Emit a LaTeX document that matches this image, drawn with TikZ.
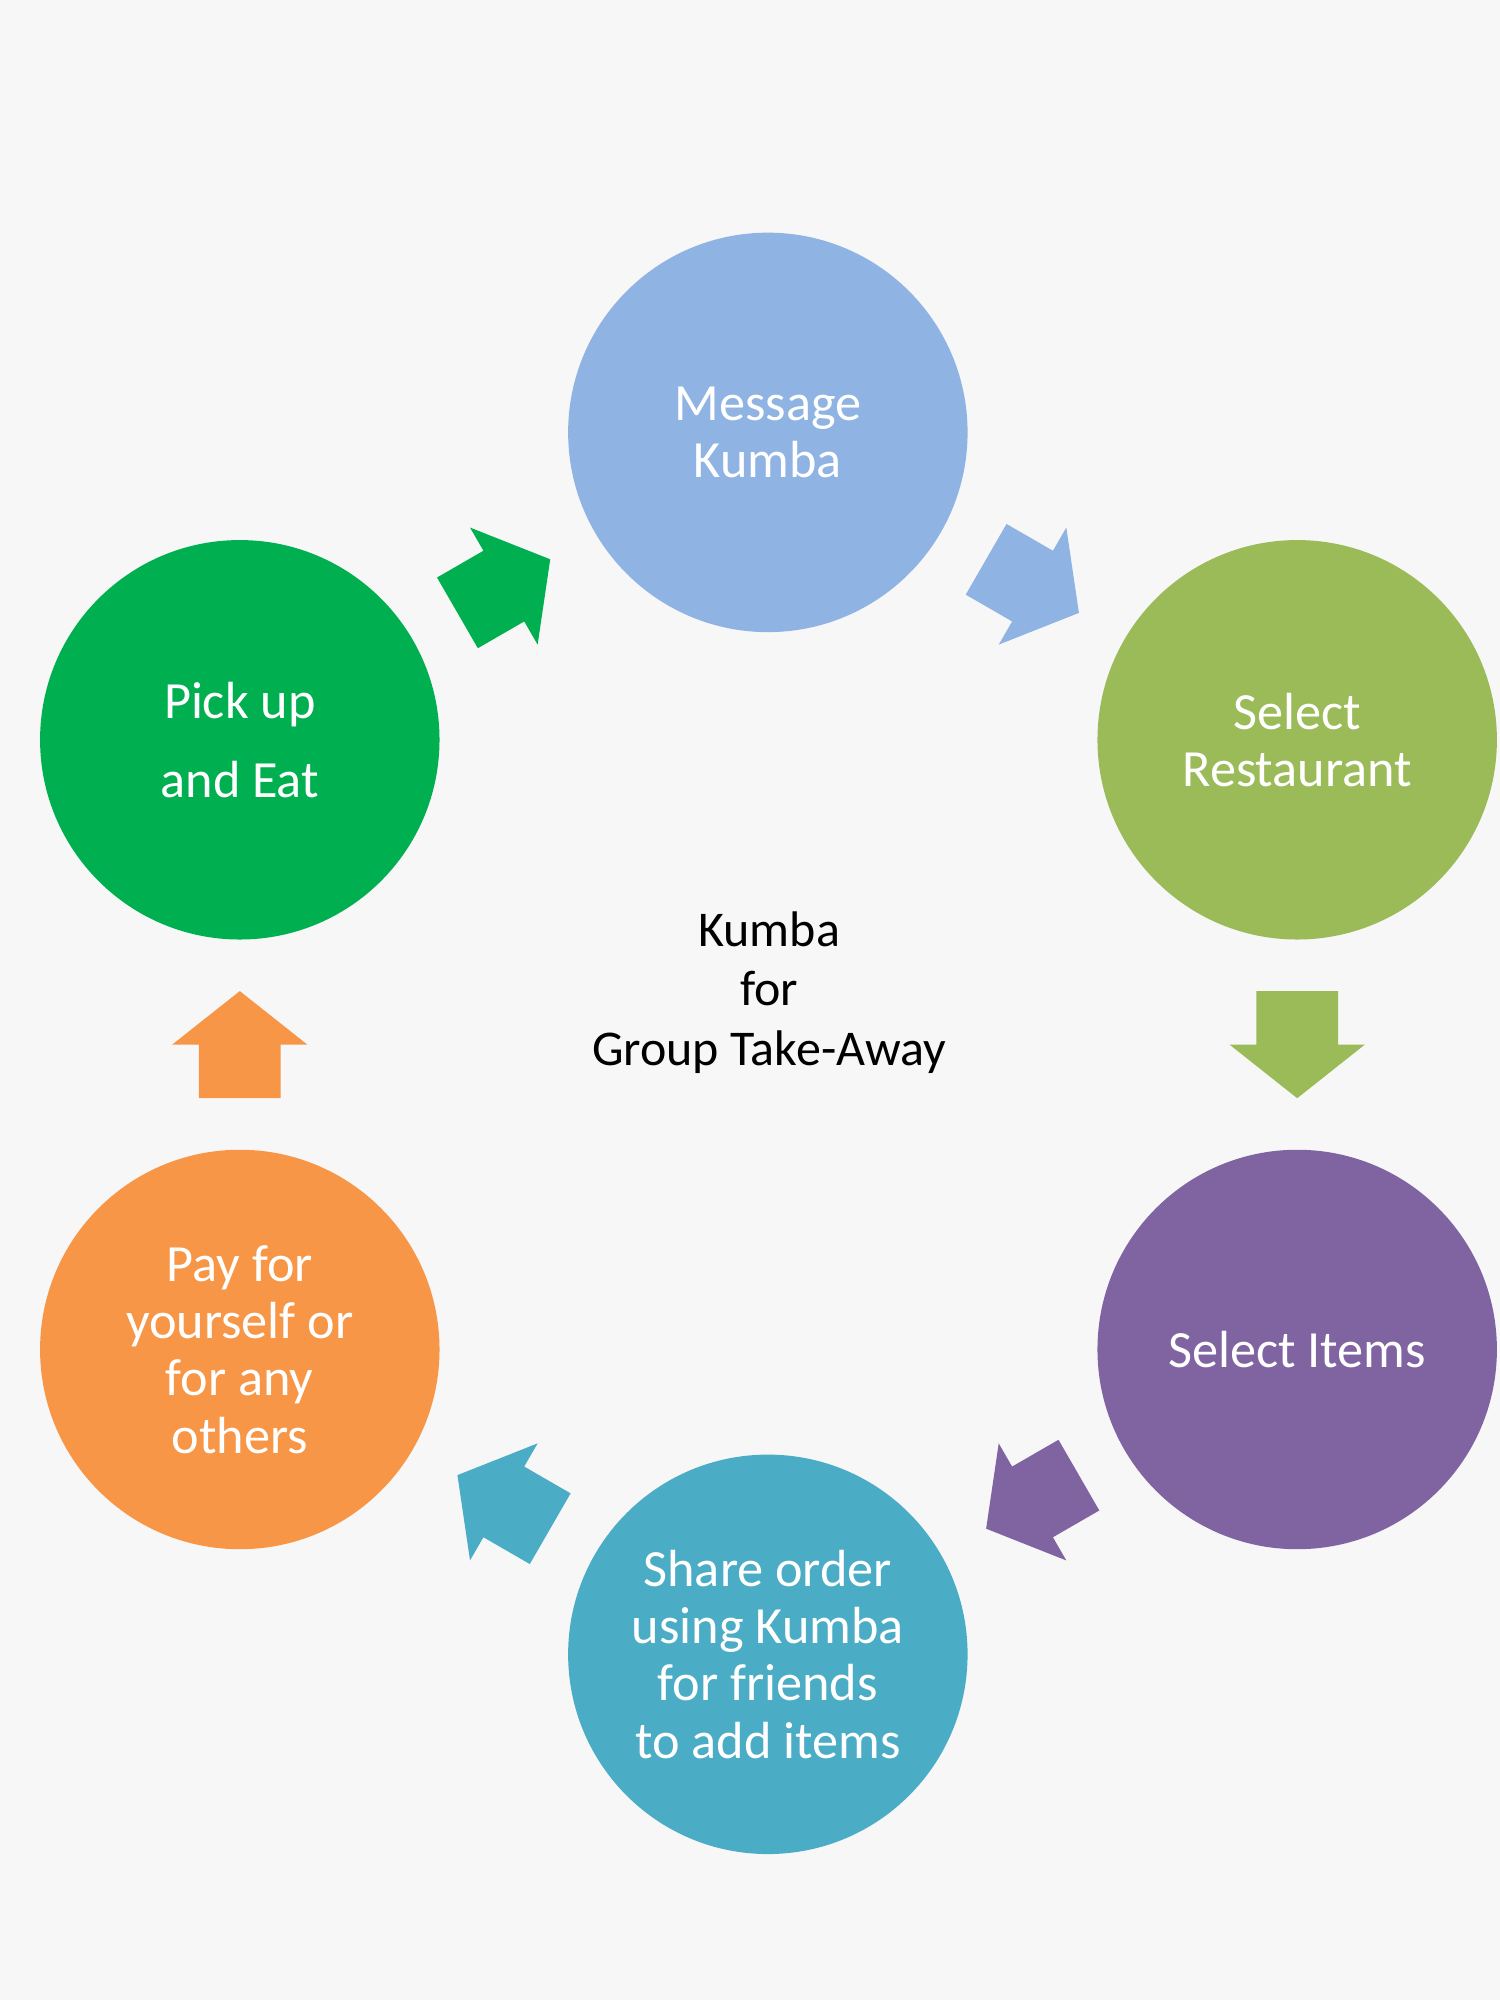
\documentclass[tikz,border=0pt]{standalone}
\usepackage{fontspec}
\setmainfont{Carlito}
\usepackage{tikz}
\usetikzlibrary{calc}
\definecolor{pagegray}{HTML}{F7F7F7}
\definecolor{msgblue}{HTML}{8FB3E2}
\definecolor{restgreen}{HTML}{9BBB59}
\definecolor{itempurple}{HTML}{8064A2}
\definecolor{shareteal}{HTML}{4BACC6}
\definecolor{payorange}{HTML}{F79646}
\definecolor{pickgreen}{HTML}{00B050}

\begin{document}
\begin{tikzpicture} [x=0.01cm, y=0.01cm,
  stage/.style={circle, minimum size=3.13cm, inner sep=0pt, align=center,
    text=white, font=\fontsize{11.65}{12.8}\selectfont},
  cyclearrow/.pic={\fill (-42,32) -- (0,32) -- (0,53) -- (42,0) -- (0,-53) -- (0,-32) -- (-42,-32) -- cycle;}]

\fill [pagegray] (0,0) rectangle (1176,1568);

\node [stage, fill=msgblue] (msg) at (602,1229) {Message\\Kumba};
\node [stage, fill=restgreen] (rest) at (1017,988) {Select\\Restaurant};
\node [stage, fill=itempurple] (items) at (1017,510) {Select Items};
\node [stage, fill=shareteal] (share) at (602,271) {Share order\\using Kumba\\for friends\\to add items};
\node [stage, fill=payorange] (pay) at (188,510) {Pay for\\yourself or\\for any\\others};
\node [stage, fill=pickgreen] (pick) at (188,988) {Pick up\\[0.17cm]and Eat};

\node [align=center, font=\fontsize{11.15}{13.3}\selectfont] (title) at (603,790) {Kumba\\for\\Group Take-Away};

\pic [fill=msgblue, rotate=-30] at ($(msg)!0.5!(rest)$) {cyclearrow};
\pic [fill=restgreen, rotate=-90] at ($(rest)!0.5!(items)$) {cyclearrow};
\pic [fill=itempurple, rotate=-150] at ($(items)!0.5!(share)$) {cyclearrow};
\pic [fill=shareteal, rotate=150] at ($(share)!0.5!(pay)$) {cyclearrow};
\pic [fill=payorange, rotate=90] at ($(pay)!0.5!(pick)$) {cyclearrow};
\pic [fill=pickgreen, rotate=30] at ($(pick)!0.5!(msg)$) {cyclearrow};

\end{tikzpicture}
\end{document}
